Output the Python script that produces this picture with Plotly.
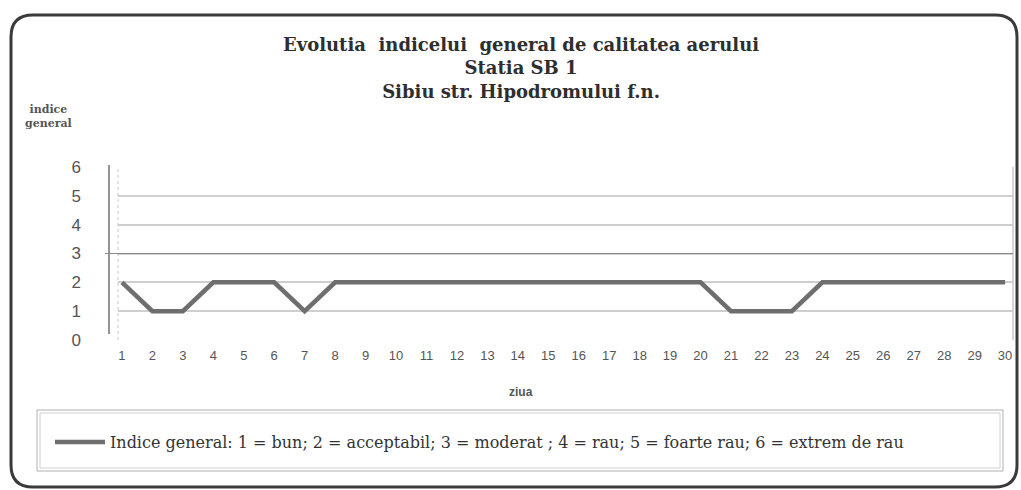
import plotly.graph_objects as go

# ---- data ----
days = list(range(1, 31))
indice = [2, 1, 1, 2, 2, 2, 1, 2, 2, 2, 2, 2, 2, 2, 2, 2, 2, 2, 2, 2,
          1, 1, 1, 2, 2, 2, 2, 2, 2, 2]
y_ticks = [0, 1, 2, 3, 4, 5, 6]
title_lines = ["Evolutia  indicelui  general de calitatea aerului",
               "Statia SB 1",
               "Sibiu str. Hipodromului f.n."]
series_name = ("Indice general: 1 = bun; 2 = acceptabil; 3 = moderat ; "
               "4 = rau; 5 = foarte rau; 6 = extrem de rau")

W, H = 1021, 490
L, R, T, B = 118, 1013, 167, 340  # plot area in pixels


def px(x):
    return (x - L) / (R - L)


def py(y):
    return (B - y) / (B - T)


fig = go.Figure()
fig.add_trace(go.Scatter(
    x=days, y=indice, mode="lines", name=series_name,
    line=dict(color="#6e6e6e", width=4.5),
))

shapes = []
# outer rounded frame
x0, y0, x1, y1, r = 11, 15, 1017, 487, 22
path = (f"M {px(x0)},{py(y0 + r)} "
        f"Q {px(x0)},{py(y0)} {px(x0 + r)},{py(y0)} "
        f"L {px(x1 - r)},{py(y0)} "
        f"Q {px(x1)},{py(y0)} {px(x1)},{py(y0 + r)} "
        f"L {px(x1)},{py(y1 - r)} "
        f"Q {px(x1)},{py(y1)} {px(x1 - r)},{py(y1)} "
        f"L {px(x0 + r)},{py(y1)} "
        f"Q {px(x0)},{py(y1)} {px(x0)},{py(y1 - r)} Z")
shapes.append(dict(type="path", xref="paper", yref="paper", path=path,
                   line=dict(color="#3a3a3a", width=3)))
# legend box (double border)
shapes.append(dict(type="rect", xref="paper", yref="paper",
                   x0=px(37), x1=px(1003), y0=py(410), y1=py(471),
                   line=dict(color="#b0b0b0", width=1)))
shapes.append(dict(type="rect", xref="paper", yref="paper",
                   x0=px(40), x1=px(1000), y0=py(413), y1=py(468),
                   line=dict(color="#d0d0d0", width=1)))
# vertical axis line
shapes.append(dict(type="line", xref="paper", yref="paper",
                   x0=px(109), x1=px(109), y0=py(165), y1=py(334),
                   line=dict(color="#707070", width=1.5)))
# dotted left edge and right border of plot area
shapes.append(dict(type="line", xref="paper", yref="paper",
                   x0=0, x1=0, y0=0, y1=1,
                   line=dict(color="#c8c8c8", width=1, dash="dot")))
shapes.append(dict(type="line", xref="paper", yref="paper",
                   x0=1, x1=1, y0=0, y1=1,
                   line=dict(color="#c8c8c8", width=1.5)))
# darker line at 3 extending to the axis
shapes.append(dict(type="line", xref="paper", yref="y",
                   x0=px(105), x1=1, y0=3, y1=3,
                   line=dict(color="#8a8a8a", width=1.2)))

annotations = []
annotations.append(dict(text="<br>".join(f"<b>{t}</b>" for t in title_lines),
                        xref="paper", yref="paper",
                        x=px(521), y=py(68), showarrow=False,
                        xanchor="center", yanchor="middle", align="center",
                        font=dict(family="DejaVu Serif", size=18,
                                  color="#2e2e2e")))
annotations.append(dict(text="<b>indice<br>general</b>", xref="paper",
                        yref="paper", x=px(48), y=py(116), showarrow=False,
                        xanchor="center", yanchor="middle", align="center",
                        font=dict(family="DejaVu Serif", size=11,
                                  color="#555555")))
annotations.append(dict(text="<b>ziua</b>", xref="paper", yref="paper",
                        x=px(521), y=py(392), showarrow=False,
                        xanchor="center", yanchor="middle",
                        font=dict(family="Liberation Sans", size=12,
                                  color="#555555")))

fig.update_layout(
    width=W, height=H,
    margin=dict(l=L, r=W - R, t=T, b=H - B, pad=0),
    paper_bgcolor="white", plot_bgcolor="white",
    shapes=shapes, annotations=annotations,
    showlegend=True,
    legend=dict(x=px(50), y=py(442), xanchor="left", yanchor="middle",
                bgcolor="rgba(0,0,0,0)", borderwidth=0,
                font=dict(family="DejaVu Serif", size=16, color="#333333"),
                itemwidth=50),
    xaxis=dict(range=[0.87, 30.26], tickmode="array", tickvals=days,
               ticktext=[str(d) for d in days], showgrid=False,
               zeroline=False, showline=False, ticks="",
               ticklabelstandoff=6,
               tickfont=dict(family="Liberation Sans", size=13,
                             color="#555555")),
    yaxis=dict(range=[0, 6], tickmode="array", tickvals=y_ticks,
               showgrid=True, gridcolor="#cfcfcf", gridwidth=2,
               zeroline=False, showline=False, ticks="",
               ticklabelstandoff=36,
               tickfont=dict(family="Liberation Sans", size=17,
                             color="#555555")),
)

fig.write_html(
    "out.html",
    config={"displayModeBar": False},
    post_script="document.body.style.margin='0';"
                "document.body.style.overflow='hidden';",
)
